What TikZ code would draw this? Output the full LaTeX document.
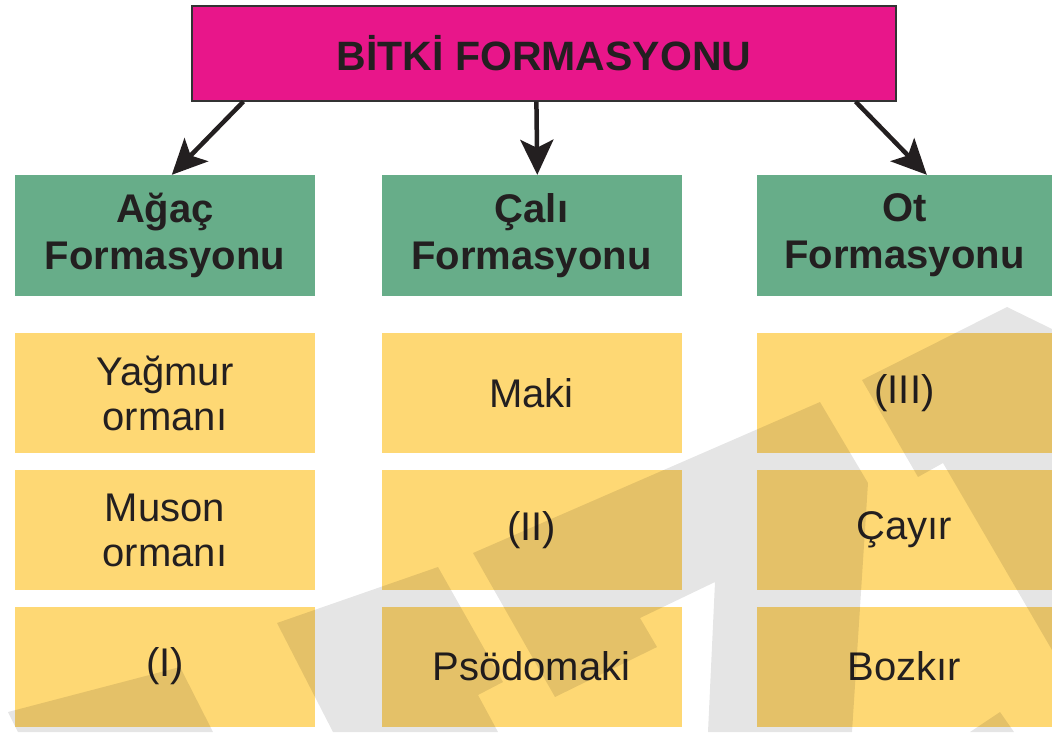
\documentclass[tikz,border=0pt]{standalone}
\usepackage{fontspec}
\setmainfont{Liberation Sans}
\usetikzlibrary{arrows.meta}
\definecolor{magentabox}{HTML}{E8168A}
\definecolor{greenbox}{HTML}{67AD89}
\definecolor{yellowbox}{HTML}{FED874}
\definecolor{inkc}{HTML}{231F20}
\begin{document}
\begin{tikzpicture}[x=1pt,y=-1pt,
  txt/.style={text=inkc, align=center, inner sep=0pt},
  titlebox/.style={txt, fill=magentabox, draw=black!80, line width=1.2pt,
    minimum width=704pt, minimum height=95pt, font=\bfseries\fontsize{41}{46}\selectfont},
  catbox/.style={txt, fill=greenbox, minimum width=300pt, minimum height=121pt,
    font=\bfseries\fontsize{40}{47}\selectfont},
  itembox/.style={txt, fill=yellowbox, minimum width=300pt, minimum height=120pt,
    font=\fontsize{40}{45}\selectfont},
  arr/.style={-{Stealth[length=35pt,width=33pt,inset=8pt]}, line width=4.5pt, draw=inkc},
  wm/.style={fill=black, fill opacity=0.1}
]
\path[use as bounding box] (0,0) rectangle (1052,732);

% title
\node[titlebox] (title) at (544,53.5) {BİTKİ FORMASYONU};

% category boxes
\node[catbox] (agac) at (165,235.5) {Ağaç\\Formasyonu};
\node[catbox] (cali) at (531.5,235.5) {Çalı\\Formasyonu};
\node[catbox, minimum width=295pt] (ot) at (904.5,235.5) {Ot\\Formasyonu};

% item boxes
\node[itembox] (a1) at (165,393) {Yağmur\\ormanı};
\node[itembox] (a2) at (165,530) {Muson\\ormanı};
\node[itembox] (a3) at (165,666.5) {(I)};
\node[itembox] (c1) at (531.5,393) {Maki};
\node[itembox] (c2) at (531.5,530) {(II)};
\node[itembox] (c3) at (531.5,666.5) {Psödomaki};
\node[itembox, minimum width=295pt] (o1) at (904.5,393) {(III)};
\node[itembox, minimum width=295pt] (o2) at (904.5,530) {Çayır};
\node[itembox, minimum width=295pt] (o3) at (904.5,666.5) {Bozkır};

% watermark shapes
\fill[wm] (8,712) -- (180,667) -- (213,732) -- (18,732) -- cycle;
\fill[wm] (277,623) -- (438,567) -- (503,682) -- (478,695) -- (498,732) -- (333,732) -- cycle;
\fill[wm] (473,553) -- (820,402) -- (868,483) -- (852,732) -- (708,732) -- (715,582)
  -- (640,618) -- (657,647) -- (555,697) -- cycle;
\fill[wm] (862,380) -- (1007,307) -- (1052,329) -- (1052,650) -- (943,463) -- (918,477) -- cycle;
\fill[wm] (970,732) -- (1000,712) -- (1014,732) -- cycle;

% arrows
\draw[arr] ([xshift=52pt]title.south west) -- ([xshift=157pt]agac.north west);
\draw[arr] ([xshift=345pt]title.south west) -- ([xshift=156pt]cali.north west);
\draw[arr] ([xshift=-41pt]title.south east) -- ([xshift=170pt]ot.north west);
\end{tikzpicture}
\end{document}
